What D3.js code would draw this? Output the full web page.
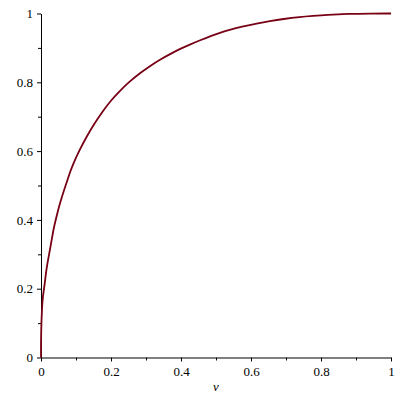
<!DOCTYPE html>
<html>
<head>
<meta charset="utf-8">
<script src="https://cdn.jsdelivr.net/npm/d3@7"></script>
<style>
  body { margin: 0; background: #fff; overflow: hidden; }
  svg { display: block; }
  svg text { font-family: "Liberation Serif", "Times New Roman", serif; }
</style>
</head>
<body>
<svg id="chart"></svg>
<script>
// values
const vValues = [0, 0, 0.003, 0.005, 0.011, 0.015, 0.022, 0.030, 0.036, 0.044, 0.051, 0.060, 0.070,
  0.082, 0.091, 0.110, 0.131, 0.149, 0.178, 0.197, 0.226, 0.254, 0.283, 0.311, 0.340, 0.369,
  0.397, 0.430, 0.454, 0.483, 0.511, 0.540, 0.578, 0.616, 0.654, 0.692, 0.740, 0.777, 0.816,
  0.877, 0.940, 1.0];
const yValues = [0, 0.07, 0.149, 0.175, 0.216, 0.255, 0.294, 0.338, 0.375, 0.408, 0.437, 0.468, 0.499,
  0.536, 0.561, 0.603, 0.643, 0.675, 0.718, 0.744, 0.776, 0.803, 0.827, 0.847, 0.866, 0.882,
  0.897, 0.912, 0.922, 0.934, 0.944, 0.953, 0.963, 0.971, 0.978, 0.984, 0.990, 0.993, 0.996,
  0.999, 1.0, 1.0];
const majorTicks = [0, 0.2, 0.4, 0.6, 0.8, 1];
const minorTicks = [0.1, 0.3, 0.5, 0.7, 0.9];
const xLabel = "v";

const width = 400, height = 400;
const margin = { top: 13.5, right: 9, bottom: 42.5, left: 41 };
const innerWidth = width - margin.left - margin.right;
const innerHeight = height - margin.top - margin.bottom;
const font = "'Liberation Serif', 'Times New Roman', serif";

const svg = d3.select("#chart")
  .attr("width", width)
  .attr("height", height);

const g = svg.append("g")
  .attr("transform", `translate(${margin.left},${margin.top})`);

const x = d3.scaleLinear().domain([0, 1]).range([0, innerWidth]);
const y = d3.scaleLinear().domain([0, 1]).range([innerHeight, 0]);

const fmt = d => d === 0 || d === 1 ? String(d) : d3.format(".1f")(d);

// minor ticks (no labels)
g.append("g")
  .attr("transform", `translate(0,${innerHeight})`)
  .call(d3.axisBottom(x).tickValues(minorTicks).tickSize(3))
  .call(a => a.select(".domain").remove())
  .call(a => a.selectAll("text").remove())
  .call(a => a.selectAll("line").attr("stroke", "#000"));
g.append("g")
  .call(d3.axisLeft(y).tickValues(minorTicks).tickSize(3))
  .call(a => a.select(".domain").remove())
  .call(a => a.selectAll("text").remove())
  .call(a => a.selectAll("line").attr("stroke", "#000"));

// major axes
const xAxis = g.append("g")
  .attr("transform", `translate(0,${innerHeight})`)
  .call(d3.axisBottom(x).tickValues(majorTicks).tickSize(4).tickPadding(5).tickSizeOuter(0).tickFormat(fmt));
const yAxis = g.append("g")
  .call(d3.axisLeft(y).tickValues(majorTicks).tickSize(4).tickPadding(4).tickSizeOuter(0).tickFormat(fmt));

[xAxis, yAxis].forEach(a => {
  a.attr("font-family", font).attr("font-size", 13);
  a.selectAll("text")
    .attr("fill", "#000")
    .style("font-size", "13px")
    .style("font-family", font);
  a.selectAll("line, path").attr("stroke", "#000");
});

g.append("text")
  .attr("x", x(0.5))
  .attr("y", innerHeight + 33)
  .attr("text-anchor", "middle")
  .style("font-family", font)
  .style("font-size", "13px")
  .style("font-style", "italic")
  .text(xLabel);

const points = vValues.map((v, i) => [v, yValues[i]]);

g.append("path")
  .datum(points)
  .attr("fill", "none")
  .attr("stroke", "#780015")
  .attr("stroke-width", 1.8)
  .attr("d", d3.line()
    .x(d => x(d[0]))
    .y(d => y(d[1]))
    .curve(d3.curveBasis));
</script>
</body>
</html>
